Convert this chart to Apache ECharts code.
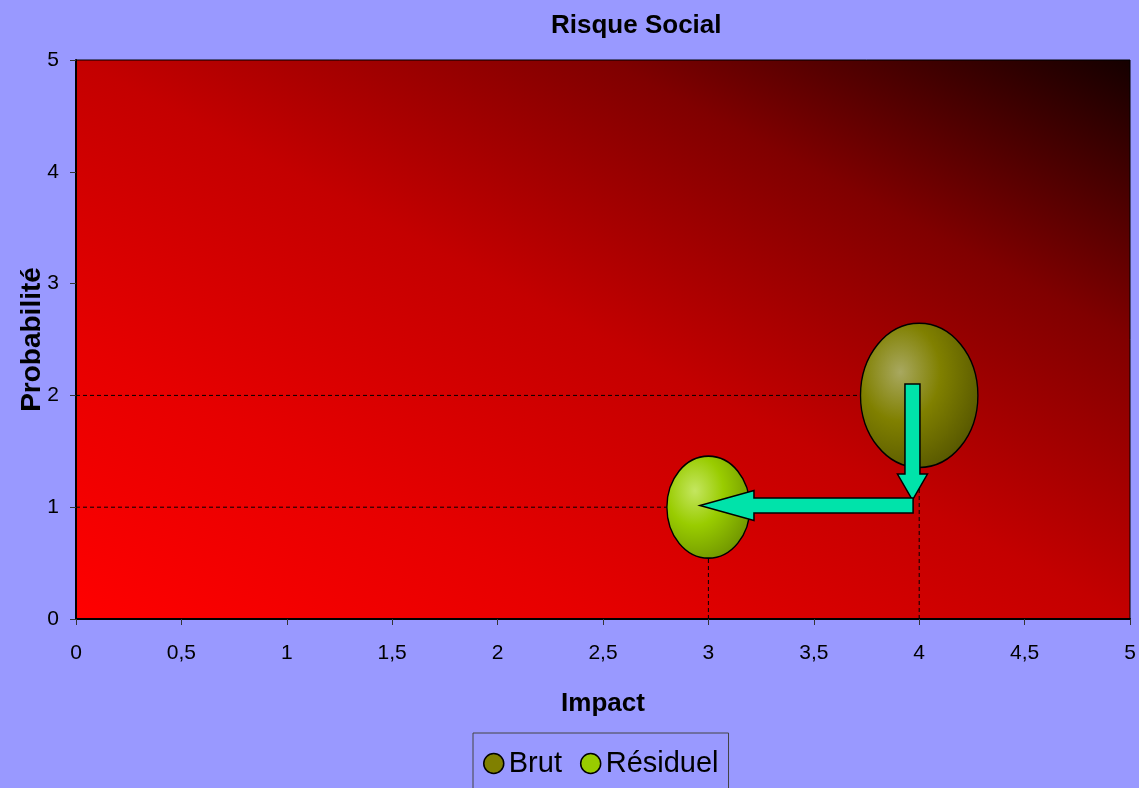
<!DOCTYPE html>
<html><head><meta charset="utf-8">
<script src="https://cdn.jsdelivr.net/npm/echarts@6/dist/echarts.min.js"></script>
<style>html,body{margin:0;padding:0;background:#9999FF;}#c{width:1139px;height:788px;}</style>
</head><body><div id="c"></div>
<script>
// ---- data ----
const chartTitle = 'Risque Social';
const xAxisName = 'Impact';
const yAxisName = 'Probabilité';
const seriesNames = ['Brut', 'Résiduel'];
const impact = [4, 3];
const probabilite = [2, 1];
const bubbleSize = [2, 1];
const xMin = 0, xMax = 5, xStep = 0.5;
const yMin = 0, yMax = 5, yStep = 1;
// annotation arrows, in data units (from -> to)
const arrowFrom = [[3.968, 2.102], [3.971, 1.015]];
const arrowTo = [[3.968, 1.064], [2.96, 1.015]];

// ---- styles ----
const FONT = "'Liberation Sans', Arial, sans-serif";
const baseColors = ['#808000', '#99CC00'];
const lightColors = ['#A8A860', '#C4E660'];
const darkColors = ['#555500', '#6E9200'];
const arrowHeadLen = [26, 54];

const GRID = { left: 76, right: 9, top: 60, bottom: 169 };
const W = 1139 - GRID.left - GRID.right, H = 788 - GRID.top - GRID.bottom;
// diagonal gradient whose iso-lines run along the box's anti-diagonal
const k = 2 * W * H / (W * W + H * H);
const gx2 = H * k / W, gy2 = 1 - W * k / H;

const chart = echarts.init(document.getElementById('c'));

const dropSeries = [];
impact.forEach((x, i) => {
  const y = probabilite[i];
  const ls = { color: '#000', width: 1, type: [4, 3] };
  dropSeries.push({ type: 'line', name: 'dropH' + i, data: [[xMin, y], [x, y]], symbol: 'none', silent: true, z: 1, lineStyle: ls, animation: false });
  dropSeries.push({ type: 'line', name: 'dropV' + i, data: [[x, yMin], [x, y]], symbol: 'none', silent: true, z: 1, lineStyle: ls, animation: false });
});

const bubbleSeries = seriesNames.map((name, i) => ({
  type: 'scatter',
  name: name,
  z: 3,
  animation: false,
  data: [[impact[i], probabilite[i], bubbleSize[i]]],
  symbol: 'circle',
  symbolSize: v => [83 * Math.sqrt(v[2]), 102 * Math.sqrt(v[2])],
  itemStyle: {
    color: {
      type: 'radial', x: 0.34, y: 0.34, r: 0.75,
      colorStops: [
        { offset: 0, color: lightColors[i] },
        { offset: 0.45, color: baseColors[i] },
        { offset: 1, color: darkColors[i] }
      ]
    },
    borderColor: '#000', borderWidth: 1.5, opacity: 1
  }
}));

chart.setOption({
  backgroundColor: '#9999FF',
  animation: false,
  textStyle: { fontFamily: FONT },
  title: {
    text: chartTitle, left: 546, top: 8,
    textStyle: { fontFamily: FONT, fontSize: 26, fontWeight: 'bold', color: '#000' }
  },
  legend: {
    left: 473, top: 733,
    padding: [16, 10, 12, 10],
    borderColor: '#444', borderWidth: 1,
    itemWidth: 20, itemHeight: 20, itemGap: 18,
    icon: 'circle',
    textStyle: { fontFamily: FONT, fontSize: 29, color: '#000' },
    data: seriesNames.map((n, i) => ({ name: n, itemStyle: { color: baseColors[i], borderColor: '#000', borderWidth: 1.5 } }))
  },
  grid: {
    left: GRID.left, right: GRID.right, top: GRID.top, bottom: GRID.bottom,
    show: true, borderColor: '#000', borderWidth: 1,
    backgroundColor: {
      type: 'linear', x: 0, y: 1, x2: gx2, y2: gy2,
      colorStops: [
        { offset: 0, color: '#FF0000' },
        { offset: 0.25, color: '#E60000' },
        { offset: 0.5, color: '#C40000' },
        { offset: 0.75, color: '#800000' },
        { offset: 1, color: '#140000' }
      ]
    }
  },
  xAxis: {
    type: 'value', min: xMin, max: xMax, interval: xStep,
    name: xAxisName, nameLocation: 'middle', nameGap: 72, nameMoveOverlap: false,
    nameTextStyle: { fontFamily: FONT, fontSize: 26, fontWeight: 'bold', color: '#000' },
    axisLine: { show: true, lineStyle: { color: '#000', width: 2 } },
    axisTick: { show: true, length: 6, lineStyle: { color: '#333', width: 1 } },
    axisLabel: { margin: 24, fontFamily: FONT, fontSize: 21, color: '#000', formatter: v => String(v).replace('.', ',') },
    splitLine: { show: false }
  },
  yAxis: {
    type: 'value', min: yMin, max: yMax, interval: yStep,
    name: yAxisName, nameLocation: 'middle', nameGap: 30, nameRotate: 90, nameMoveOverlap: false,
    nameTextStyle: { fontFamily: FONT, fontSize: 28, fontWeight: 'bold', color: '#000' },
    axisLine: { show: true, lineStyle: { color: '#000', width: 2 } },
    axisTick: { show: true, length: 6, lineStyle: { color: '#333', width: 1 } },
    axisLabel: { margin: 17, fontFamily: FONT, fontSize: 21, color: '#000' },
    splitLine: { show: false }
  },
  series: dropSeries.concat(bubbleSeries)
});

// ---- arrows (annotation shapes placed through the axes) ----
function arrowPolygon(p0, p1, headLen) {
  const dx = p1[0] - p0[0], dy = p1[1] - p0[1];
  const len = Math.hypot(dx, dy);
  const ux = dx / len, uy = dy / len;
  const nx = -uy, ny = ux;
  const w = 7.5, h = 15;
  const bx = p1[0] - ux * headLen, by = p1[1] - uy * headLen;
  return [
    [p0[0] + nx * w, p0[1] + ny * w],
    [bx + nx * w, by + ny * w],
    [bx + nx * h, by + ny * h],
    [p1[0], p1[1]],
    [bx - nx * h, by - ny * h],
    [bx - nx * w, by - ny * w],
    [p0[0] - nx * w, p0[1] - ny * w]
  ];
}
const elements = arrowFrom.map((f, i) => {
  const p0 = chart.convertToPixel({ gridIndex: 0 }, f);
  const p1 = chart.convertToPixel({ gridIndex: 0 }, arrowTo[i]);
  return {
    type: 'polygon', z: 10,
    shape: { points: arrowPolygon(p0, p1, arrowHeadLen[i]) },
    style: { fill: '#00E3AA', stroke: '#000', lineWidth: 1.5 }
  };
});
chart.setOption({ graphic: { elements: elements } });
</script>
</body></html>
